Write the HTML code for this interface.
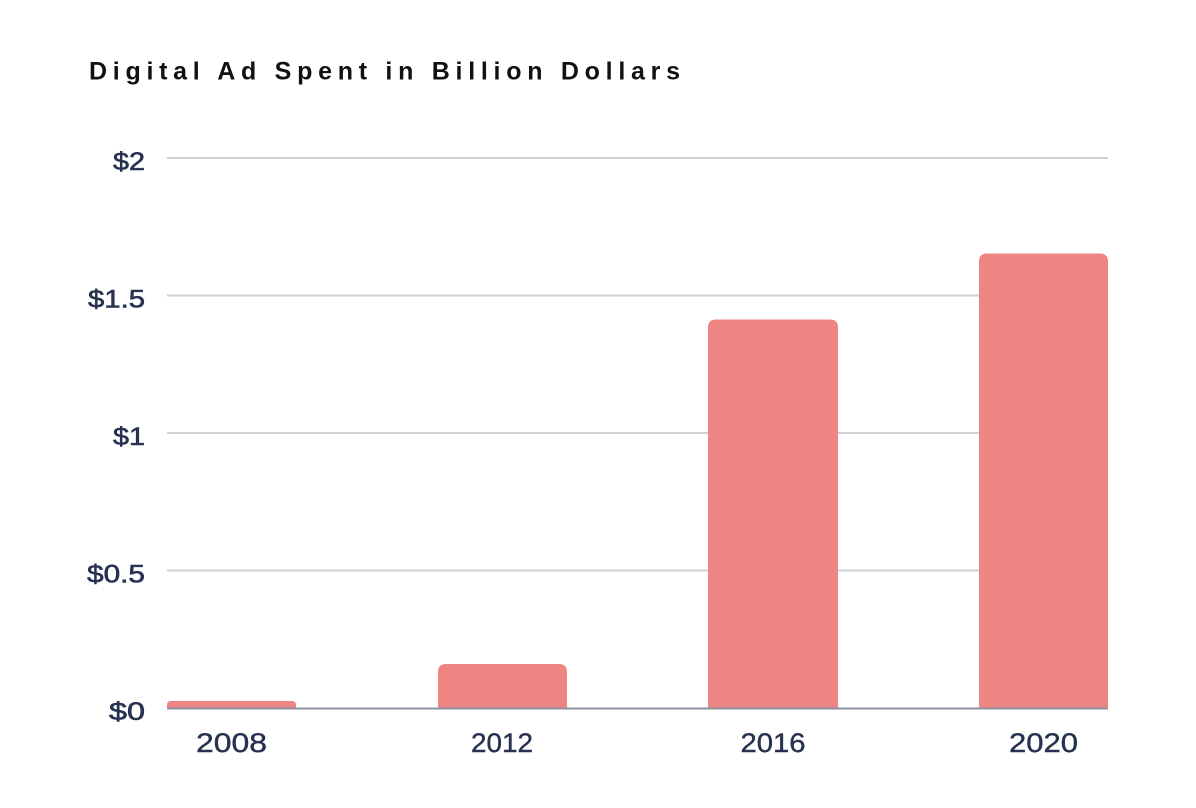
<!DOCTYPE html>
<html>
<head>
<meta charset="utf-8">
<style>
html,body{margin:0;padding:0;background:#fff;}
body{width:1196px;height:808px;overflow:hidden;}
svg{display:block;}
</style>
</head>
<body>
<svg width="1196" height="808" viewBox="0 0 1196 808" xmlns="http://www.w3.org/2000/svg">
  <rect width="1196" height="808" fill="#ffffff"/>
  <text x="89" y="79.5" font-family="Liberation Sans, sans-serif" font-weight="bold" font-size="25" fill="#111111" textLength="591" lengthAdjust="spacing">Digital Ad Spent in Billion Dollars</text>

  <!-- gridlines -->
  <g stroke="#cfd0d8" stroke-width="2">
    <line x1="167" y1="158" x2="1108" y2="158"/>
    <line x1="167" y1="295.5" x2="1108" y2="295.5"/>
    <line x1="167" y1="433" x2="1108" y2="433"/>
    <line x1="167" y1="570.5" x2="1108" y2="570.5"/>
  </g>

  <!-- y labels -->
  <g font-family="Liberation Sans, sans-serif" font-size="25" fill="#273150" stroke="#273150" stroke-width="0.6" text-anchor="end">
    <text x="145" y="170" textLength="32" lengthAdjust="spacingAndGlyphs">$2</text>
    <text x="145" y="307.5" textLength="57" lengthAdjust="spacingAndGlyphs">$1.5</text>
    <text x="145" y="445" textLength="32" lengthAdjust="spacingAndGlyphs">$1</text>
    <text x="145" y="582.5" textLength="58" lengthAdjust="spacingAndGlyphs">$0.5</text>
    <text x="145" y="720" textLength="36" lengthAdjust="spacingAndGlyphs">$0</text>
  </g>

  <!-- bars -->
  <g fill="#ee8583">
    <path d="M167,708 V705 Q167,701 171,701 H292 Q296,701 296,705 V708 Z"/>
    <path d="M438,708 V672 Q438,664 446,664 H559 Q567,664 567,672 V708 Z"/>
    <path d="M708,708 V327.5 Q708,319.5 716,319.5 H830 Q838,319.5 838,327.5 V708 Z"/>
    <path d="M979,708 V261.5 Q979,253.5 987,253.5 H1100 Q1108,253.5 1108,261.5 V708 Z"/>
  </g>

  <!-- axis -->
  <line x1="167" y1="708.5" x2="1108" y2="708.5" stroke="#8d92a0" stroke-width="2"/>

  <!-- x labels -->
  <g font-family="Liberation Sans, sans-serif" font-size="27" fill="#273150" stroke="#273150" stroke-width="0.4" text-anchor="middle">
    <text x="231.5" y="752" textLength="71" lengthAdjust="spacingAndGlyphs">2008</text>
    <text x="502" y="752" textLength="62" lengthAdjust="spacingAndGlyphs">2012</text>
    <text x="773" y="752" textLength="65" lengthAdjust="spacingAndGlyphs">2016</text>
    <text x="1043.5" y="752" textLength="69" lengthAdjust="spacingAndGlyphs">2020</text>
  </g>
</svg>
</body>
</html>
